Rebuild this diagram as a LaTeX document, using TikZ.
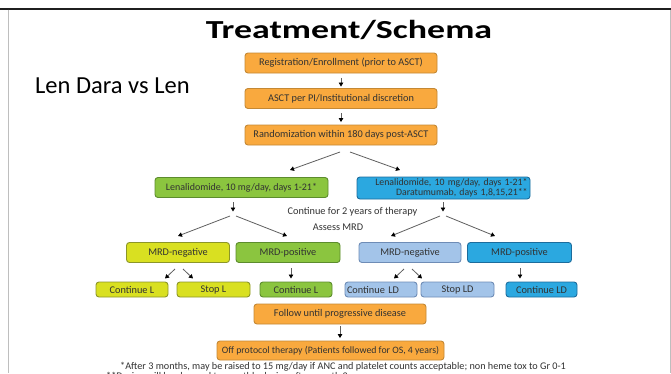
\documentclass[tikz,border=0pt]{standalone}
\usepackage{fontspec}
\usepackage{graphicx}
\setmainfont{Carlito}
\usetikzlibrary{arrows.meta}

% box palette
\definecolor{orfill}{RGB}{249,169,62}
\definecolor{ordraw}{RGB}{196,136,52}
\definecolor{grfill}{RGB}{139,197,63}
\definecolor{grdraw}{RGB}{92,140,45}
\definecolor{yefill}{RGB}{217,224,33}
\definecolor{yedraw}{RGB}{140,150,40}
\definecolor{lbfill}{RGB}{163,196,233}
\definecolor{lbdraw}{RGB}{110,140,182}
\definecolor{bufill}{RGB}{43,168,224}
\definecolor{budraw}{RGB}{28,108,156}
\definecolor{txt}{RGB}{50,50,50}
\definecolor{arrgray}{RGB}{95,95,95}
\definecolor{frame}{RGB}{190,190,190}

\begin{document}
\begin{tikzpicture}[x=1pt,y=-1pt,
  box/.style={rounded corners=3pt, line width=0.9pt, inner sep=0pt, text=txt,
    font=\fontsize{10.3}{11}\selectfont, anchor=center},
  orbox/.style={box, fill=orfill, draw=ordraw},
  grbox/.style={box, fill=grfill, draw=grdraw},
  yebox/.style={box, fill=yefill, draw=yedraw},
  lbbox/.style={box, fill=lbfill, draw=lbdraw},
  bubox/.style={box, fill=bufill, draw=budraw},
  label/.style={inner sep=0pt, text=txt, font=\fontsize{10.3}{11}\selectfont},
  arr/.style={draw=arrgray, line width=0.8pt,
    -{Triangle[length=4pt,width=4.5pt,color=black]}}
]
\useasboundingbox (0,0) rectangle (671,373);
\fill[white] (0,0) rectangle (671,373);

% page frame
\fill[black!88] (0,7.5) rectangle (671,9.5);
\draw[frame, line width=1pt] (8.7,9.5) -- (8.7,373);
\draw[frame, line width=1pt] (670.3,9.5) -- (670.3,373);

% headings
\node[anchor=base, inner sep=0pt, font=\fontsize{26}{30}\selectfont\bfseries]
  (title) at (349,38) {\scalebox{1.38}[1]{Treatment/Schema}};
\node[anchor=base west, inner sep=0pt, font=\fontsize{24.5}{28}\selectfont]
  (len) at (35,93) {Len Dara vs Len};

% enrollment chain
\node[orbox, minimum width=192pt, minimum height=20pt] (reg) at (341,63)
  {Registration/Enrollment (prior to ASCT)};
\node[orbox, minimum width=192pt, minimum height=20pt] (asct) at (341,98.5)
  {ASCT per PI/Institutional discretion};
\node[orbox, minimum width=192pt, minimum height=20pt] (rand) at (341,135)
  {Randomization within 180 days post-ASCT};
\draw[arr, shorten <=4.5pt, shorten >=1.5pt] (reg) -- (asct);
\draw[arr, shorten <=4.5pt, shorten >=2.5pt] (asct) -- (rand);

% randomisation arms
\coordinate (rl0) at (340,152); \coordinate (rl1) at (290,170);
\coordinate (rr0) at (350,152); \coordinate (rr1) at (400,170);
\draw[arr] (rl0) -- (rl1);
\draw[arr] (rr0) -- (rr1);

\node[grbox, minimum width=173pt, minimum height=20pt, font=\fontsize{10}{11}\selectfont]
  (lenA) at (241.5,187.5) {Lenalidomide, 10 mg/day, days 1-21*};
\node[bubox, minimum width=173pt, minimum height=22pt, text width=168pt, align=right,
  font=\fontsize{9.8}{7.4}\selectfont]
  (lenB) at (443.5,188) {Lenalidomide, 10 mg/day, days 1-21*\\Daratumumab, days 1,8,15,21**};

\coordinate (la0) at (233,202); \coordinate (la1) at (233,211.5);
\coordinate (lb0) at (443,202); \coordinate (lb1) at (443,211.5);
\draw[arr] (la0) -- (la1);
\draw[arr] (lb0) -- (lb1);

\node[label] (cont) at (352.5,212) {Continue for 2 years of therapy};
\node[label] (assess) at (338,227) {Assess MRD};

% MRD split
\coordinate (ma0) at (230,216); \coordinate (ma1) at (178,236);
\coordinate (mb0) at (236,216); \coordinate (mb1) at (287,236);
\coordinate (mc0) at (440,216); \coordinate (mc1) at (391,236);
\coordinate (md0) at (446,216); \coordinate (md1) at (495,236);
\draw[arr] (ma0) -- (ma1);
\draw[arr] (mb0) -- (mb1);
\draw[arr] (mc0) -- (mc1);
\draw[arr] (md0) -- (md1);

\node[yebox, minimum width=103pt, minimum height=20pt] (yneg) at (178,252.5) {MRD-negative};
\node[grbox, minimum width=104pt, minimum height=20pt] (gpos) at (288,252.5) {MRD-positive};
\node[lbbox, minimum width=102pt, minimum height=20pt] (bneg) at (410,252.5) {MRD-negative};
\node[bubox, minimum width=104pt, minimum height=20pt] (bpos) at (519.5,252.5) {MRD-positive};

% decisions
\coordinate (sa0) at (175,269); \coordinate (sa1) at (165,278.5);
\coordinate (sb0) at (183,269); \coordinate (sb1) at (193,278.5);
\coordinate (sc0) at (291,268); \coordinate (sc1) at (291,278.5);
\coordinate (sd0) at (404,269); \coordinate (sd1) at (394,278.5);
\coordinate (se0) at (412,269); \coordinate (se1) at (422,278.5);
\coordinate (sf0) at (520,268); \coordinate (sf1) at (520,278.5);
\foreach \s in {sa,sb,sc,sd,se,sf} \draw[arr] (\s0) -- (\s1);

\node[yebox, minimum width=72pt, minimum height=15pt] (cl1) at (132,289.5) {Continue L};
\node[yebox, minimum width=73pt, minimum height=15pt] (sl) at (213.5,289.5) {Stop L};
\node[grbox, minimum width=72pt, minimum height=15pt] (cl2) at (296,289.5) {Continue L};
\node[lbbox, minimum width=72pt, minimum height=15pt, text width=68pt, align=left]
  (cld1) at (381,289.5) {Continue LD};
\node[lbbox, minimum width=73pt, minimum height=15pt] (sld) at (457.5,289.5) {Stop LD};
\node[bubox, minimum width=71pt, minimum height=15pt] (cld2) at (541.5,289.5) {Continue LD};

% follow-up
\node[orbox, minimum width=172pt, minimum height=20pt] (follow) at (340,314)
  {Follow until progressive disease};
\node[orbox, minimum width=227pt, minimum height=19pt, font=\fontsize{9.8}{11}\selectfont]
  (off) at (330.5,350.5) {Off protocol therapy (Patients followed for OS, 4 years)};
\draw[arr, shorten <=2pt, shorten >=2.5pt] (follow.south) -- (follow.south |- off.north);

% footnotes
\node[anchor=base west, inner sep=0pt, text=txt, font=\fontsize{10.2}{11}\selectfont]
  (fn1) at (120,369) {*After 3 months, may be raised to 15 mg/day if ANC and platelet counts acceptable; non heme tox to Gr 0-1};
\node[anchor=base west, inner sep=0pt, text=txt, font=\fontsize{10.2}{11}\selectfont]
  (fn2) at (106,379.5) {**Dosing will be changed to monthly dosing after month 2};
\end{tikzpicture}
\end{document}
